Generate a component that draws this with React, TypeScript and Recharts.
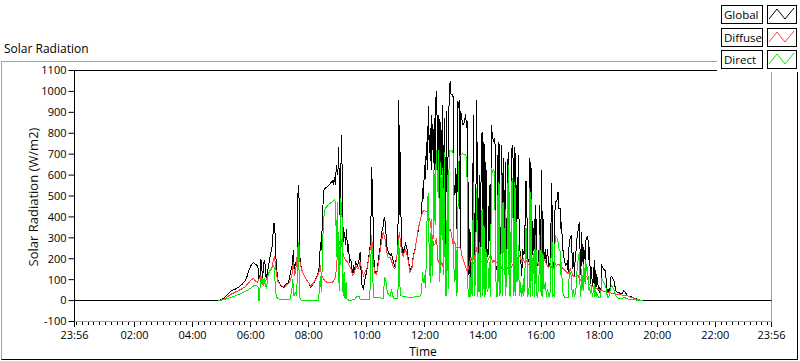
import React from 'react';
import { LineChart, Line, XAxis, YAxis, ReferenceLine } from 'recharts';

// [minutes after midnight, W/m2]
const globalW: [number, number][] = [
  [-4, 0], [293, 0], [300, 6], [307, 16], [314, 35], [321, 48], [328, 54], [335, 64], [342, 77], [348, 93],
  [352, 112], [355, 136], [359, 160], [362, 174], [366, 181], [369, 176], [373, 168], [375, 160], [377, 104], [379, 112],
  [381, 200], [383, 168], [384, 96], [386, 144], [388, 195], [390, 168], [392, 104], [394, 128], [397, 168], [400, 208],
  [404, 256], [406, 312], [408, 371], [410, 344], [411, 264], [413, 168], [415, 120], [417, 93], [421, 77], [424, 67],
  [428, 64], [431, 72], [433, 80], [438, 85], [443, 144], [446, 168], [448, 240], [450, 152], [453, 181], [456, 203],
  [458, 552], [460, 488], [461, 408], [462, 184], [465, 152], [469, 128], [474, 104], [480, 85], [484, 64], [488, 75],
  [493, 96], [498, 120], [502, 165], [504, 280], [506, 240], [509, 440], [511, 528], [515, 539], [521, 549], [526, 565],
  [529, 571], [531, 552], [533, 592], [535, 552], [537, 648], [540, 600], [542, 736], [543, 536], [544, 408], [546, 600],
  [548, 792], [550, 392], [552, 280], [554, 328], [556, 264], [558, 344], [560, 232], [562, 272], [564, 184], [567, 197],
  [571, 120], [573, 168], [575, 133], [577, 184], [581, 165], [584, 197], [586, 232], [588, 144], [590, 75], [593, 53],
  [595, 88], [599, 133], [602, 176], [606, 240], [608, 304], [610, 640], [611, 552], [613, 376], [614, 216], [617, 139],
  [620, 126], [624, 197], [627, 248], [631, 328], [633, 344], [636, 400], [638, 376], [641, 264], [644, 232], [648, 216],
  [651, 224], [655, 184], [658, 160], [662, 216], [664, 232], [666, 960], [668, 408], [669, 712], [671, 312], [673, 245],
  [675, 216], [677, 248], [680, 272], [683, 245], [686, 192], [689, 144], [693, 160], [696, 216], [700, 248], [703, 296],
  [706, 331], [710, 384], [713, 411], [715, 536], [717, 485], [719, 648], [721, 581], [723, 760], [725, 624], [727, 928],
  [729, 704], [731, 824], [733, 624], [734, 888], [736, 752], [738, 656], [739, 872], [741, 600], [742, 952], [744, 1000],
  [746, 760], [747, 568], [749, 888], [751, 344], [753, 856], [754, 600], [756, 936], [758, 440], [760, 872], [762, 184],
  [763, 600], [765, 904], [766, 280], [768, 760], [770, 952], [772, 1051], [774, 984], [776, 987], [778, 976], [780, 552],
  [782, 504], [784, 632], [786, 344], [787, 952], [789, 920], [791, 960], [793, 248], [794, 904], [796, 872], [798, 843],
  [800, 840], [802, 864], [804, 891], [806, 824], [808, 856], [809, 568], [811, 120], [813, 344], [815, 104], [818, 184],
  [820, 888], [822, 216], [824, 120], [825, 408], [827, 960], [829, 280], [831, 184], [832, 600], [834, 184], [835, 472],
  [838, 808], [839, 248], [841, 200], [842, 760], [844, 184], [846, 664], [848, 200], [850, 248], [851, 216], [853, 552],
  [855, 184], [856, 216], [857, 840], [860, 776], [862, 760], [863, 776], [865, 744], [866, 136], [869, 168], [870, 696],
  [872, 184], [873, 760], [875, 184], [877, 312], [879, 744], [880, 152], [882, 680], [884, 184], [886, 664], [887, 168],
  [889, 312], [891, 616], [892, 712], [894, 184], [895, 376], [897, 120], [900, 744], [902, 680], [904, 248], [906, 736],
  [908, 184], [909, 552], [911, 392], [913, 696], [915, 248], [917, 232], [920, 120], [922, 248], [924, 216], [926, 232],
  [928, 568], [930, 568], [932, 184], [935, 192], [937, 680], [939, 184], [940, 632], [942, 216], [944, 248], [946, 392],
  [947, 184], [949, 456], [951, 184], [953, 168], [956, 248], [957, 456], [960, 200], [961, 624], [963, 184], [964, 392],
  [966, 200], [969, 248], [971, 168], [973, 248], [976, 168], [979, 184], [982, 560], [984, 168], [986, 184], [987, 152],
  [989, 472], [991, 472], [994, 488], [995, 520], [997, 440], [1000, 440], [1001, 344], [1002, 376], [1004, 280], [1006, 216],
  [1009, 184], [1011, 168], [1014, 184], [1016, 136], [1018, 280], [1020, 296], [1022, 312], [1023, 280], [1025, 152], [1026, 232],
  [1029, 120], [1030, 184], [1032, 232], [1034, 296], [1037, 344], [1039, 376], [1040, 280], [1042, 120], [1044, 328], [1045, 224],
  [1047, 176], [1048, 256], [1051, 192], [1052, 280], [1054, 301], [1056, 307], [1057, 288], [1059, 192], [1060, 256], [1062, 80],
  [1064, 160], [1066, 64], [1068, 96], [1070, 192], [1071, 48], [1073, 144], [1075, 64], [1077, 112], [1078, 48], [1080, 64],
  [1082, 32], [1084, 64], [1085, 168], [1087, 160], [1089, 152], [1092, 144], [1093, 141], [1095, 80], [1097, 40], [1099, 48],
  [1101, 32], [1102, 48], [1104, 112], [1106, 115], [1108, 104], [1111, 93], [1114, 48], [1117, 40], [1121, 40], [1124, 32],
  [1128, 35], [1131, 48], [1135, 35], [1138, 24], [1142, 19], [1145, 21], [1149, 16], [1153, 11], [1158, 8], [1163, 3],
  [1169, 0], [1436, 0],
];

const diffuseW: [number, number][] = [
  [297, 0], [307, 10], [314, 22], [321, 32], [335, 48], [348, 64], [355, 83], [361, 99], [366, 106], [370, 93],
  [374, 86], [377, 104], [380, 115], [383, 83], [386, 72], [390, 93], [393, 104], [397, 125], [400, 144], [404, 160],
  [407, 192], [409, 211], [411, 176], [413, 128], [416, 93], [421, 77], [426, 67], [431, 64], [433, 72], [440, 85],
  [446, 130], [448, 184], [451, 120], [455, 184], [457, 251], [460, 261], [462, 184], [465, 149], [469, 128], [474, 104],
  [480, 85], [484, 69], [491, 88], [498, 117], [502, 144], [504, 168], [506, 120], [510, 104], [514, 93], [519, 85],
  [526, 85], [531, 91], [535, 112], [537, 152], [540, 248], [542, 288], [544, 272], [547, 288], [550, 232], [553, 208],
  [557, 192], [560, 184], [564, 168], [567, 152], [571, 120], [574, 128], [577, 165], [581, 152], [584, 160], [586, 184],
  [589, 155], [593, 120], [596, 136], [601, 160], [605, 216], [608, 264], [611, 280], [613, 184], [617, 128], [620, 126],
  [624, 176], [627, 229], [631, 293], [634, 328], [637, 302], [641, 232], [644, 208], [648, 208], [651, 190], [655, 158],
  [658, 152], [662, 208], [665, 280], [667, 328], [669, 288], [672, 232], [675, 213], [679, 245], [682, 229], [686, 184],
  [689, 136], [693, 152], [696, 208], [700, 248], [703, 296], [706, 341], [710, 382], [713, 408], [717, 432], [720, 429],
  [724, 424], [727, 408], [731, 376], [734, 320], [738, 264], [741, 270], [744, 300], [747, 192], [750, 176], [753, 184],
  [756, 168], [758, 184], [760, 245], [763, 264], [766, 288], [770, 336], [772, 341], [774, 328], [777, 280], [779, 264],
  [781, 283], [784, 256], [787, 248], [791, 256], [794, 248], [797, 208], [801, 184], [804, 160], [808, 136], [811, 165],
  [815, 208], [818, 184], [822, 176], [825, 264], [829, 216], [832, 200], [835, 192], [839, 184], [842, 176], [846, 192],
  [849, 184], [853, 208], [856, 216], [860, 184], [863, 192], [866, 184], [870, 184], [873, 200], [877, 168], [880, 144],
  [884, 152], [887, 136], [891, 160], [899, 160], [906, 192], [909, 208], [913, 200], [916, 216], [920, 184], [923, 200],
  [926, 184], [930, 192], [933, 176], [937, 168], [940, 184], [944, 160], [947, 168], [951, 184], [954, 176], [957, 160],
  [961, 232], [964, 208], [968, 192], [971, 176], [975, 160], [978, 168], [982, 160], [985, 152], [989, 176], [992, 168],
  [995, 176], [999, 168], [1002, 160], [1006, 152], [1009, 144], [1013, 136], [1016, 128], [1020, 152], [1023, 136], [1026, 120],
  [1030, 112], [1033, 120], [1037, 120], [1040, 96], [1044, 104], [1045, 112], [1048, 96], [1052, 120], [1055, 112], [1059, 80],
  [1062, 72], [1069, 64], [1076, 56], [1083, 48], [1090, 45], [1097, 40], [1107, 35], [1114, 32], [1124, 27], [1135, 26],
  [1142, 19], [1150, 13], [1158, 6], [1170, 0],
];

const directW: [number, number][] = [
  [293, 0], [307, 6], [321, 16], [335, 29], [348, 42], [359, 58], [366, 70], [370, 74], [375, 67], [377, 0],
  [378, 0], [380, 96], [383, 115], [386, 72], [388, 109], [390, 80], [393, 56], [395, 120], [400, 144], [405, 157],
  [408, 168], [410, 104], [412, 32], [415, 10], [421, 5], [431, 3], [441, 5], [445, 48], [447, 101], [449, 21],
  [452, 40], [455, 24], [457, 184], [458, 280], [460, 136], [461, 24], [463, 3], [481, 0], [500, 0], [502, 56],
  [504, 117], [506, 40], [508, 184], [510, 376], [513, 437], [517, 448], [522, 462], [528, 472], [532, 480], [534, 485],
  [536, 408], [537, 208], [539, 472], [541, 85], [542, 328], [544, 48], [546, 491], [549, 392], [550, 112], [551, 21],
  [553, 136], [555, 8], [557, 88], [559, 8], [564, 0], [574, 5], [579, 18], [584, 21], [586, 5], [606, 5],
  [608, 184], [610, 312], [612, 120], [614, 16], [634, 11], [635, 56], [637, 112], [640, 85], [642, 43], [644, 32],
  [648, 21], [651, 53], [653, 24], [656, 11], [664, 11], [665, 120], [666, 296], [668, 104], [669, 24], [689, 14],
  [710, 21], [713, 40], [715, 136], [717, 85], [719, 120], [721, 59], [723, 208], [725, 472], [727, 512], [728, 328],
  [729, 208], [731, 85], [733, 392], [734, 184], [736, 120], [738, 624], [739, 600], [741, 360], [742, 600], [744, 720],
  [746, 520], [748, 720], [751, 88], [753, 664], [754, 312], [756, 632], [758, 120], [760, 712], [762, 24], [764, 328],
  [765, 24], [766, 600], [768, 56], [770, 704], [772, 720], [775, 712], [777, 718], [779, 696], [780, 152], [782, 88],
  [784, 264], [786, 24], [787, 72], [789, 632], [791, 680], [793, 696], [795, 696], [798, 704], [801, 696], [804, 699],
  [806, 680], [808, 488], [809, 56], [811, 16], [813, 120], [815, 16], [817, 184], [818, 24], [820, 568], [822, 24],
  [824, 88], [825, 248], [827, 536], [829, 16], [831, 88], [832, 280], [834, 16], [835, 184], [838, 440], [839, 24],
  [841, 88], [842, 360], [844, 16], [846, 248], [848, 56], [850, 40], [851, 88], [853, 184], [855, 16], [856, 56],
  [857, 632], [860, 616], [862, 624], [863, 616], [865, 408], [866, 120], [869, 16], [870, 504], [872, 88], [873, 568],
  [875, 24], [877, 184], [879, 600], [880, 24], [882, 472], [884, 120], [886, 440], [887, 24], [889, 184], [891, 408],
  [892, 648], [894, 24], [895, 520], [897, 16], [900, 584], [902, 392], [904, 24], [906, 568], [908, 24], [909, 376],
  [911, 88], [913, 264], [915, 24], [917, 88], [919, 16], [921, 72], [923, 24], [925, 120], [926, 40], [928, 344],
  [930, 344], [932, 16], [935, 56], [937, 536], [939, 16], [940, 488], [942, 24], [944, 184], [946, 248], [947, 16],
  [949, 312], [951, 24], [953, 16], [956, 136], [957, 312], [960, 24], [961, 392], [963, 16], [964, 216], [966, 56],
  [969, 88], [971, 16], [973, 56], [976, 16], [979, 40], [982, 376], [984, 16], [986, 32], [987, 16], [989, 312],
  [991, 304], [994, 296], [995, 280], [997, 248], [1000, 232], [1001, 120], [1002, 184], [1004, 56], [1006, 24], [1009, 16],
  [1016, 16], [1018, 120], [1020, 136], [1022, 120], [1023, 72], [1025, 16], [1026, 56], [1029, 16], [1030, 24], [1032, 56],
  [1034, 136], [1037, 208], [1039, 232], [1040, 88], [1042, 16], [1044, 152], [1045, 96], [1047, 48], [1048, 176], [1051, 80],
  [1052, 192], [1054, 144], [1056, 160], [1057, 112], [1059, 48], [1060, 64], [1062, 32], [1064, 64], [1066, 16], [1068, 48],
  [1070, 80], [1071, 16], [1073, 48], [1075, 16], [1077, 32], [1078, 16], [1082, 16], [1084, 48], [1085, 104], [1087, 96],
  [1090, 83], [1093, 72], [1095, 48], [1097, 16], [1100, 16], [1104, 64], [1106, 72], [1108, 64], [1111, 48], [1114, 24],
  [1121, 8], [1128, 8], [1131, 16], [1138, 8], [1150, 4], [1160, 2], [1170, 0],
];

const yTicks = [-100, 0, 100, 200, 300, 400, 500, 600, 700, 800, 900, 1000, 1100];
const majorTicks = [-4, 120, 240, 360, 480, 600, 720, 840, 960, 1080, 1200, 1320, 1436];
const majorLabels = ['23:56', '02:00', '04:00', '06:00', '08:00', '10:00', '12:00', '14:00', '16:00', '18:00', '20:00', '22:00', '23:56'];

const legendItems = [
  { name: 'Global', color: '#000000' },
  { name: 'Diffuse', color: '#ff4040' },
  { name: 'Direct', color: '#00e800' },
];

// minor ticks every 12 minutes
const minorTicks: number[] = [];
for (let m = 0; m < 1436; m += 12) {
  if (!majorTicks.includes(m)) minorTicks.push(m);
}
const xTicks = [...majorTicks, ...minorTicks].sort((a, b) => a - b);

const FONT = '"Open Sans", "Noto Sans", sans-serif';

const toRows = (pts: [number, number][]) => pts.map(([t, w]) => ({ t, w }));

function TimeTick(props: any) {
  const { x, y, payload } = props;
  const i = majorTicks.indexOf(payload.value);
  const major = i >= 0;
  return (
    <g>
      <line x1={x} x2={x} y1={y} y2={y + (major ? 5 : 3)} stroke="#000" shapeRendering="crispEdges" />
      {major && (
        <text x={x} y={y + 10} dy="0.71em" textAnchor="middle" fontSize={11} fill="#000" fontFamily={FONT}>
          {majorLabels[i]}
        </text>
      )}
    </g>
  );
}

function Sample({ color }: { color: string }) {
  return (
    <svg width={28} height={17} style={{ display: 'block' }}>
      <polyline points="1,13 9,3 17,13 26,2" fill="none" stroke={color} strokeWidth={1} />
    </svg>
  );
}

export default function App() {
  return (
    <div style={{ position: 'absolute', left: 0, top: 0, width: 800, height: 361, background: '#fff', fontFamily: FONT, overflow: 'hidden' }}>
      <style>{`.recharts-line .recharts-curve { shape-rendering: crispEdges; }`}</style>
      <div style={{ position: 'absolute', left: 4, top: 42, fontSize: 12, lineHeight: '14px', color: '#000' }}>Solar Radiation</div>
      <div
        style={{
          position: 'absolute', left: 1, top: 61, width: 797, height: 299, boxSizing: 'border-box',
          borderTop: '1px solid #a0a0a0', borderLeft: '1px solid #a0a0a0',
          borderRight: '1px solid #000', borderBottom: '1px solid #000',
        }}
      />
      <div
        style={{
          position: 'absolute', left: 33, top: 197, transform: 'translate(-50%, -50%) rotate(-90deg)',
          whiteSpace: 'nowrap', fontSize: 13, lineHeight: '15px', color: '#111',
        }}
      >
        Solar Radiation (W/m2)
      </div>
      <div style={{ position: 'absolute', left: 0, top: 0 }}>
        <LineChart width={800} height={361} margin={{ top: 70.5, right: 28.5, left: 4.5, bottom: 3.5 }}>
          <XAxis
            dataKey="t"
            type="number"
            domain={[-4, 1436]}
            ticks={xTicks}
            interval={0}
            allowDataOverflow
            tick={<TimeTick />}
            tickLine={false}
            tickSize={0}
            tickMargin={0}
            axisLine={{ stroke: '#a0a0a0' }}
            height={36}
          />
          <YAxis
            type="number"
            domain={[-100, 1100]}
            ticks={yTicks}
            interval={0}
            allowDataOverflow
            width={70}
            tickSize={6}
            tickMargin={2}
            axisLine={{ stroke: '#000' }}
            tickLine={{ stroke: '#000' }}
            tick={{ fill: '#000', fontSize: 11, fontFamily: FONT }}
          />
          <ReferenceLine y={1100} stroke="#000" />
          <ReferenceLine x={1436} stroke="#a0a0a0" />
          <Line data={toRows(globalW)} dataKey="w" type="linear" stroke="#000000" strokeWidth={1} dot={false} isAnimationActive={false} />
          <Line data={toRows(diffuseW)} dataKey="w" type="linear" stroke="#ff4040" strokeWidth={1} dot={false} isAnimationActive={false} />
          <Line data={toRows(directW)} dataKey="w" type="linear" stroke="#00e800" strokeWidth={1} dot={false} isAnimationActive={false} />
        </LineChart>
      </div>
      <div style={{ position: 'absolute', left: 423, top: 345, transform: 'translateX(-50%)', fontSize: 12, lineHeight: '14px', color: '#000' }}>Time</div>
      <div style={{ position: 'absolute', left: 717, top: 0, width: 83, height: 72, background: '#fff' }}>
        {legendItems.map((it, i) => (
          <div key={it.name} style={{ position: 'absolute', left: 0, top: 5 + i * 22.5, height: 19 }}>
            <div
              style={{
                position: 'absolute', left: 4, top: 0, width: 42, height: 19, boxSizing: 'border-box',
                border: '1px solid #000', fontSize: 11.5, lineHeight: '17px', paddingLeft: 2, color: '#000',
                whiteSpace: 'nowrap', overflow: 'hidden',
              }}
            >
              {it.name}
            </div>
            <div
              style={{
                position: 'absolute', left: 50, top: 0, width: 30, height: 19, boxSizing: 'border-box',
                border: '1px solid #000',
              }}
            >
              <Sample color={it.color} />
            </div>
          </div>
        ))}
      </div>
    </div>
  );
}
